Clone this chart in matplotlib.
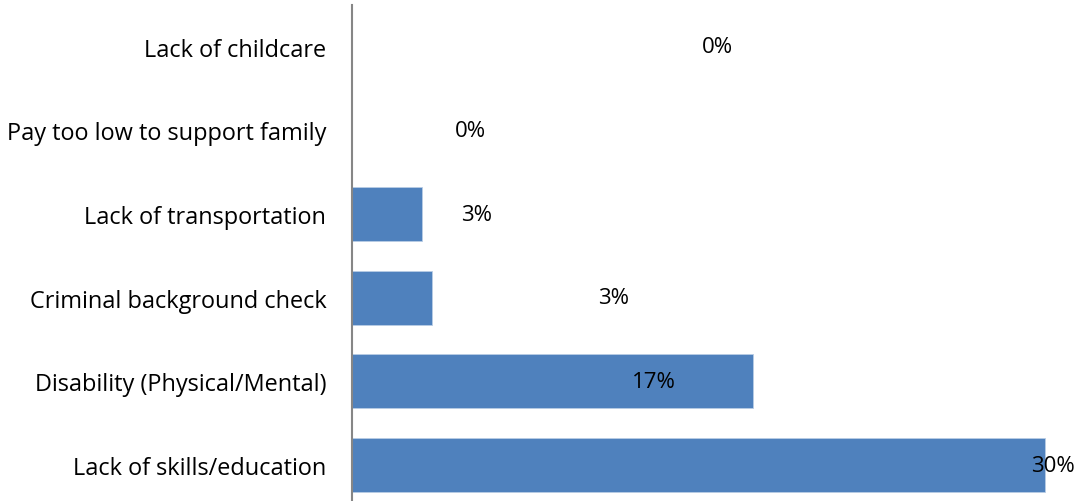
import matplotlib.pyplot as plt

# ---- datos ----
categorias = ["Lack of skills/education", "Disability (Physical/Mental)",
              "Criminal background check", "Lack of transportation",
              "Pay too low to support family", "Lack of childcare"]
porcentajes = [30.0, 17.37, 3.46, 3.04, 0.0, 0.0]
# posicion x de cada etiqueta (en % del eje)
pos_etiquetas = [30.35, 13.07, 11.34, 5.41, 5.11, 15.84]

plt.rcParams['font.family'] = ['Open Sans', 'DejaVu Sans']

fig = plt.figure(figsize=(10.79, 5.02), dpi=100)
ax = fig.add_axes([0.3262, -0.012, 1 - 0.3262, 1.0006])

y = list(range(len(categorias)))
ax.barh(y, porcentajes, height=0.645, color='#4F81BD', edgecolor='#B9CDE5', linewidth=0.6)

for yi, v, xe in zip(y, porcentajes, pos_etiquetas):
    ax.text(xe, yi, f"{v:.0f}%", ha='center', va='center', fontsize=16, color='black', clip_on=False)

ax.set_xlim(0, 31.47)
ax.set_ylim(-0.5, 5.5)
ax.set_yticks(y)
ax.set_yticklabels(categorias, fontsize=16.9)
ax.tick_params(axis='y', length=0, pad=18.5)
ax.set_xticks([])

for lado in ['top', 'right', 'bottom']:
    ax.spines[lado].set_visible(False)
ax.spines['left'].set_color('#868686')
ax.spines['left'].set_linewidth(1.5)

fig.savefig("out.png", dpi=100)
